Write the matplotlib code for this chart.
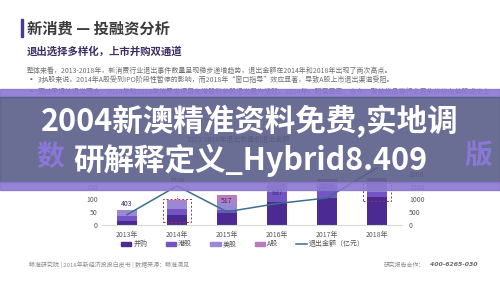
import matplotlib
matplotlib.use("Agg")
import matplotlib.pyplot as plt
from matplotlib.patches import Rectangle
from matplotlib.lines import Line2D
import numpy as np

plt.rcParams['font.family'] = ['Noto Sans CJK SC', 'DejaVu Sans']

# data
years = ["2013年", "2014年", "2015年", "2016年", "2017年", "2018年"]
merge = [17, 40, 46, 88, 104, 110]      # 并购
hk = [18, 24, 12, 42, 46, 17]           # 港股
us = [23, 30, 30, 15, 10, 45]           # 美股
ashare = [0, 2, 30, 20, 18, 12]         # A股
amount = [403, 1526, 517, 837, 1056, 2230]   # 退出金额（亿元）
series_names = ["并购", "港股", "美股", "A股"]
line_name = "退出金额（亿元）"

colors = ["#4b2a91", "#7453c4", "#9a88d6", "#b77dbd"]
line_color = "#3b6e8f"

W, H = 500, 281
fig = plt.figure(figsize=(W / 100, H / 100), dpi=100)
fig.patch.set_facecolor("white")


def fx(px):
    return px / W


def fy(py):
    return 1 - py / H


# header
fig.add_artist(Rectangle((fx(20.7), fy(36.7)), fx(2.6), 17.4 / H,
                         transform=fig.transFigure, color="#4b3a8c"))
fig.text(fx(27), fy(28.3), "新消费 — 投融资分析", fontsize=11, weight="bold",
         color="#3c3c3c", va="center")
fig.text(fx(27), fy(51.7), "退出选择多样化，上市并购双通道", fontsize=7.5,
         weight="bold", color="#3b2f63", va="center")

body = [
    (27, 70.7, "整体来看，2013-2018年，新消费行业退出事件数量呈现稳步递增趋势，退出金额在2014年和2018年出现了两次高点。"),
    (27, 80.3, "▪"),
    (38, 80.3, "对A股来说，2014年A股受到IPO阶段性暂停的影响，而2018年“窗口指导”效应显著，导致A股上市退出渠道受阻。"),
    (27, 92.0, "▪"),
    (38, 92.0, "而对于境外退出而言，2014年和2018年消费类项目在港股和美股退出最为活跃。2014年，阿里巴巴、京东、聚美优品等行业巨头纷纷在美股成功上"),
]
for x, y, t in body:
    fig.text(fx(x), fy(y), t, fontsize=5, color="#6e6e6e", va="center")

# chart
ax = fig.add_axes([fx(102), fy(225), fx(402) - fx(102), 64 / H])
x = np.arange(len(years))
bw = 0.4
bottom = np.zeros(len(years))
for vals, c, name in zip([merge, hk, us, ashare], colors, series_names):
    ax.bar(x, vals, bw, bottom=bottom, color=c, label=name, zorder=2)
    bottom += np.array(vals)

ax.set_xlim(-0.5, len(years) - 0.5)
ax.set_ylim(0, 250)
ax.set_yticks(range(0, 151, 50))
ax.set_xticks(x)
ax.set_xticklabels(years)
for s in ["top", "left", "right"]:
    ax.spines[s].set_visible(False)
ax.spines["bottom"].set_color("#d9d9d9")
ax.tick_params(length=0, labelsize=5, labelcolor="#595959")
ax.tick_params(axis="y", pad=3)
ax.tick_params(axis="x", pad=4)

ax2 = ax.twinx()
ax2.plot(x, amount, color=line_color, lw=1.1, zorder=3, label=line_name)
ax2.set_ylim(0, 2500)
ax2.set_yticks(range(0, 2001, 500))
for s in ["top", "left", "right", "bottom"]:
    ax2.spines[s].set_visible(False)
ax2.tick_params(length=0, labelsize=5, labelcolor="#595959", pad=5)
# the 2018 label sits under the banner in the reference
for xi, v in zip(x[:-1], amount[:-1]):
    off = 1 if v == max(amount[:-1]) else 5
    ax2.annotate(str(v), (xi, v), xytext=(0, off), textcoords="offset points",
                 ha="center", va="bottom", fontsize=5, color="#3a2a6a")

# highlight boxes (2014, 2018)
for i, lo, hi in [(1, 12, 101), (5, 95, 165)]:
    ax.add_patch(Rectangle((i - 0.28, lo), 0.56, hi - lo, fill=False,
                           ls=(0, (2, 2)), lw=0.7, ec="#a0304a", zorder=4))
ax.plot([1, 1], [101, 112], ls=(0, (1.5, 1.5)), lw=0.6, color="#a0304a", zorder=4)

fig.text(fx(238), fy(140), "2013-2018年退出数量和退出金额", fontsize=5,
         color="#555555", ha="center", va="center")

handles = [Rectangle((0, 0), 1, 1, color=c) for c in colors]
handles.append(Line2D([0], [0], color=line_color, lw=1.1))
fig.legend(handles, series_names + [line_name], loc="center",
           bbox_to_anchor=(fx(243), fy(244)), ncol=5, frameon=False,
           fontsize=5, handlelength=1.5, handleheight=0.5,
           columnspacing=2.6, handletextpad=0.3, labelcolor="#555555")

# footer
fig.text(fx(29), fy(264.3), "鲸准研究院 | 2018年新经济投投白皮书 | 数据来源：鲸准洞见",
         fontsize=4.3, color="#8a8a8a", va="center")
fig.text(fx(384), fy(264.7), "研究报告合作：", fontsize=4.2, color="#8a8a8a",
         va="center")
fig.text(fx(430), fy(264.7), "400-6265-030", fontsize=4.4, color="#6a6a6a",
         va="center", ha="left", style="italic", weight="bold",
         family="DejaVu Sans")

# overlay banner
fig.add_artist(Rectangle((0, fy(97)), 1, 8 / H, transform=fig.transFigure,
                         color="#8a78d0", alpha=0.9, zorder=10))
fig.add_artist(Rectangle((0, fy(182)), 1, 85 / H, transform=fig.transFigure,
                         color="#5a5d88", alpha=0.9, zorder=10))
fig.add_artist(Rectangle((0, fy(190)), 1, 8 / H, transform=fig.transFigure,
                         color="#8a78d0", alpha=0.9, zorder=10))
fig.text(fx(50), fy(157), "数", fontsize=20, weight="bold", color="#8a78d8",
         ha="center", va="center", zorder=11)
fig.text(fx(478), fy(156), "版", fontsize=20, weight="bold", color="#8a78d8",
         ha="center", va="center", zorder=11)
fig.text(0.5, fy(121.7), "2004新澳精准资料免费,实地调", fontsize=22,
         weight="black", color="white", ha="center", va="center", zorder=12)
fig.text(0.5, fy(160.5), "研解释定义_Hybrid8.409", fontsize=22,
         weight="black", color="white", ha="center", va="center", zorder=12)

fig.savefig("out.png", dpi=100)
